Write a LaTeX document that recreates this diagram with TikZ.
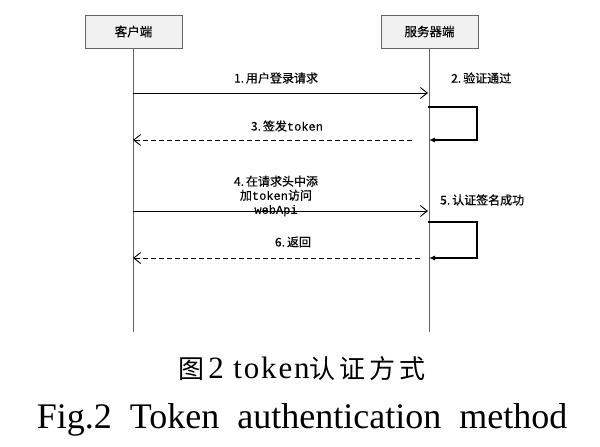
\documentclass[tikz,border=0pt]{standalone}
\usepackage{fontspec}
\setmainfont{Liberation Serif}
\newfontfamily\cjk{Noto Sans CJK SC}
\newfontfamily\cjkb{Noto Sans CJK SC}[FakeBold=0.4]
\newfontfamily\mono{Liberation Mono}[FakeBold=0.3]
\newfontfamily\capserif{Liberation Serif}[LetterSpace=6]
\usetikzlibrary{arrows.meta}
\tikzset{
  actor/.style={draw=black!60, line width=0.9pt, fill=black!6, minimum width=97pt, minimum height=33pt, inner sep=0pt, font=\cjkb\fontsize{12.5}{14}\selectfont},
  lifeline/.style={draw=black!60, line width=1.2pt},
  msg/.style={draw=black, line width=0.9pt, -{Straight Barb[length=7pt,width=11pt,line width=0.9pt]}},
  reply/.style={msg, dash pattern=on 5pt off 3pt},
  selfloop/.style={draw=black, line width=1.1pt, -{Latex[length=6pt,width=5pt]}},
  lbl/.style={font=\cjkb\fontsize{12}{14}\selectfont, inner sep=0pt, align=center}
}
\begin{document}
\begin{tikzpicture}[x=1pt,y=-1pt]
\useasboundingbox (0,0) rectangle (600,447);
\fill[white] (0,0) rectangle (600,447);
% actors
\node[actor] (client) at (133.5,31.5) {客户端};
\node[actor] (server) at (429.5,31.5) {服务器端};
\coordinate (cend) at (133,332);
\coordinate (send) at (428,332);
\draw[lifeline] (client.south) -- (client.south |- cend);
\draw[lifeline] (server.south) -- (server.south |- send);
% message coordinates
\coordinate (c1) at (133,93);  \coordinate (s1) at (428,93);
\coordinate (l1a) at (428,107); \coordinate (l1b) at (477,107);
\coordinate (l1c) at (477,140); \coordinate (l1d) at (429,140);
\coordinate (s3) at (412,140); \coordinate (c3) at (133,140);
\coordinate (c4) at (133,211); \coordinate (s4) at (428,211);
\coordinate (l2a) at (428,222); \coordinate (l2b) at (477,222);
\coordinate (l2c) at (477,258); \coordinate (l2d) at (429,258);
\coordinate (s6) at (420,258); \coordinate (c6) at (133,258);
% messages
\draw[msg] (c1) -- (s1);
\node[lbl] (m1) at (276,78) {1.\,用户登录请求};
\draw[selfloop] (l1a) -- (l1b) -- (l1c) -- (l1d);
\node[lbl, anchor=west] (m2) at (451,78) {2.\,验证通过};
\draw[reply] (s3) -- (c3);
\node[lbl] (m3) at (287,126) {3.\,签发{\mono token}};
\draw[msg] (c4) -- (s4);
\node[lbl] (m4) at (276,196) {4.\,在请求头中添\\加{\mono token}访问\\{\mono webApi}};
\draw[selfloop] (l2a) -- (l2b) -- (l2c) -- (l2d);
\node[lbl, anchor=west] (m5) at (440,200) {5.\,认证签名成功};
\draw[reply] (s6) -- (c6);
\node[lbl] (m6) at (293,242) {6.\,返回};
% captions
\node[inner sep=0pt] (cap1) at (302,369) {{\cjk\fontsize{26}{29}\selectfont 图}\hspace{4pt}{\capserif\fontsize{31}{35}\selectfont 2 token}{\cjk\fontsize{26}{29}\selectfont 认\hspace{4pt}证\hspace{4pt}方\hspace{4pt}式}};
\node[inner sep=0pt, font=\fontsize{36}{40}\selectfont] (cap2) at (302,420) {Fig.2\ \ Token\ \ authentication\ \ method};
\end{tikzpicture}
\end{document}
